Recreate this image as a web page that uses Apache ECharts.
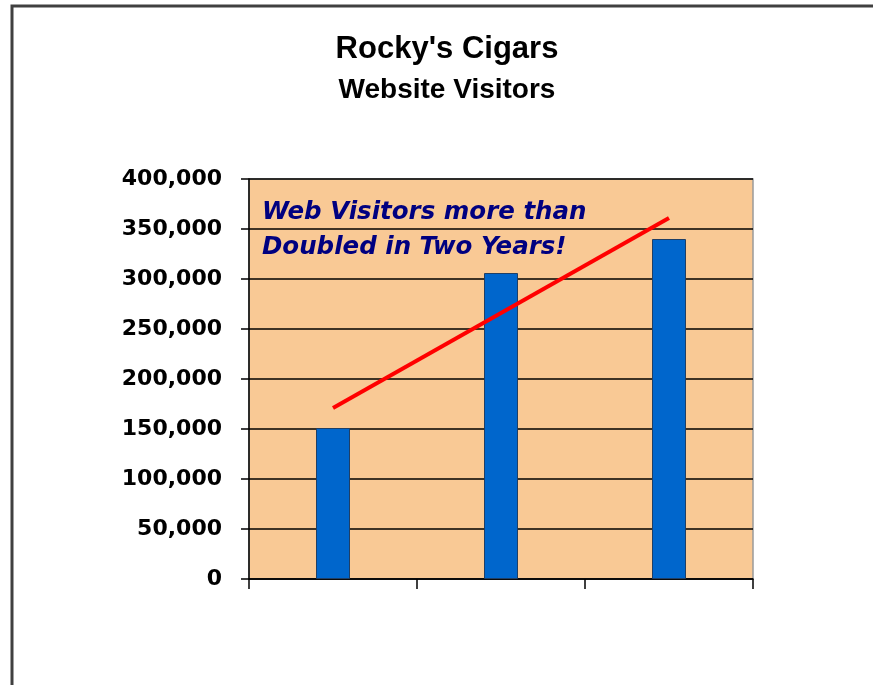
<!DOCTYPE html>
<html>
<head>
<meta charset="utf-8">
<script src="https://cdn.jsdelivr.net/npm/echarts@6/dist/echarts.min.js"></script>
<style>
html,body{margin:0;padding:0;background:#fff;}
#c{width:873px;height:685px;}
</style>
</head>
<body>
<div id="c"></div>
<script>
var categories = ['Year 1', 'Year 2', 'Year 3'];
var visitors = [151000, 306000, 340000];
var trendLine = [[0, 171000], [2, 361000]];
var yTicks = [0, 50000, 100000, 150000, 200000, 250000, 300000, 350000, 400000];
var titleText = "Rocky's Cigars";
var subtitleText = 'Website Visitors';
var noteLines = ['Web Visitors more than', 'Doubled in Two Years!'];

var chart = echarts.init(document.getElementById('c'), null, {renderer: 'canvas'});
function fmt(v) { return String(v).replace(/\B(?=(\d{3})+(?!\d))/g, ','); }

var option = {
  animation: false,
  backgroundColor: '#ffffff',
  grid: {left: 249, right: 120, top: 179, bottom: 106, show: true,
         backgroundColor: '#F9C995', borderColor: '#9a9a9a', borderWidth: 1.5},
  xAxis: {
    type: 'category', data: categories, boundaryGap: true,
    axisLine: {lineStyle: {color: '#000', width: 1.5}},
    axisTick: {show: true, alignWithLabel: false, length: 10, lineStyle: {color: '#000', width: 1.5}},
    axisLabel: {show: false}
  },
  yAxis: {
    type: 'value', min: yTicks[0], max: yTicks[yTicks.length - 1],
    interval: yTicks[1] - yTicks[0],
    axisLine: {show: true, lineStyle: {color: '#000', width: 1.5}},
    axisTick: {show: true, length: 8, lineStyle: {color: '#000', width: 1.5}},
    splitLine: {show: true, lineStyle: {color: '#000', width: 1.5}},
    axisLabel: {margin: 27, color: '#000', fontFamily: 'DejaVu Sans', fontWeight: 'bold', fontSize: 22,
                formatter: function (v) { return fmt(v); }}
  },
  series: [
    {type: 'bar', data: visitors, barWidth: 34,
     itemStyle: {color: '#0066CC', borderColor: '#1f3f66', borderWidth: 1}},
    {type: 'line', data: trendLine, showSymbol: false, symbol: 'none',
     lineStyle: {color: '#FF0000', width: 4}, z: 5}
  ],
  graphic: [
    {type: 'polyline', shape: {points: [[12, 685], [12, 6], [873, 6]]},
     style: {stroke: '#404040', lineWidth: 3, fill: null}},
    {type: 'text', x: 447, y: 49, style: {text: titleText, textAlign: 'center', textVerticalAlign: 'middle',
      font: 'bold 31px "Liberation Sans", Arial, sans-serif', fill: '#000'}},
    {type: 'text', x: 447, y: 90, style: {text: subtitleText, textAlign: 'center', textVerticalAlign: 'middle',
      font: 'bold 28px "Liberation Sans", Arial, sans-serif', fill: '#000'}},
    {type: 'text', x: 262, y: 213, z: 10, style: {text: noteLines[0], textAlign: 'left', textVerticalAlign: 'middle',
      font: 'italic bold 24.5px "DejaVu Sans", sans-serif', fill: '#000080'}},
    {type: 'text', x: 262, y: 248, z: 10, style: {text: noteLines[1], textAlign: 'left', textVerticalAlign: 'middle',
      font: 'italic bold 24.5px "DejaVu Sans", sans-serif', fill: '#000080'}}
  ]
};
chart.setOption(option);
</script>
</body>
</html>
